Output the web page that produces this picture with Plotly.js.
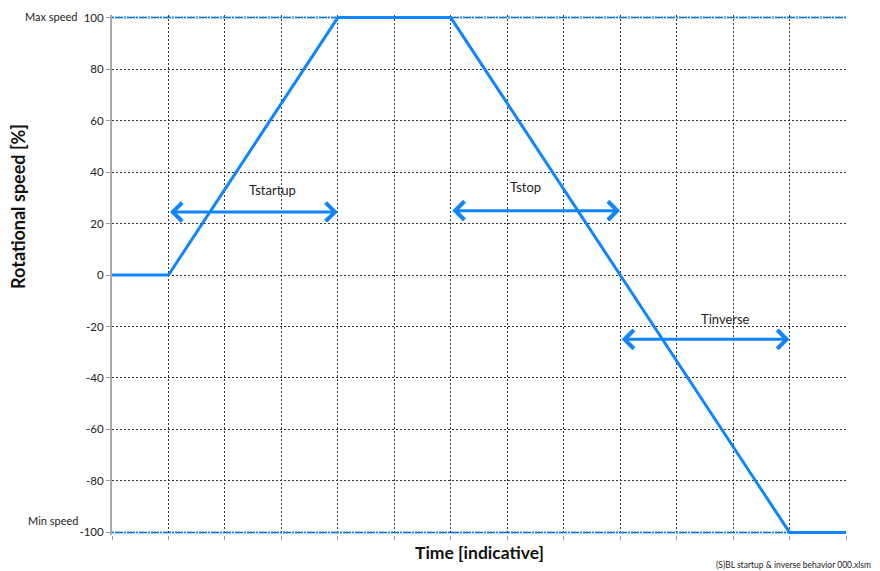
<!DOCTYPE html>
<html>
<head>
<meta charset="utf-8">
<script src="https://cdn.plot.ly/plotly-3.0.1.min.js"></script>
<style>html,body{margin:0;padding:0;background:#fff;}#chart{width:880px;height:571px;}</style>
</head>
<body>
<div id="chart"></div>
<script>
// Speed profile (time in indicative units, speed in %)
const timeValues = [0, 1, 4, 6, 12, 13];
const speedValues = [0, 0, 100, 100, -100, -100];

// Max / min speed reference lines
const limitTime = [0, 13];
const maxSpeed = [100, 100];
const minSpeed = [-100, -100];

// Interval arrows
const arrowNames = ['Tstartup', 'Tstop', 'Tinverse'];
const arrowStart = [1, 6, 9];
const arrowEnd = [4, 9, 12];
const arrowLevel = [24.5, 25, -25];
const labelX = [2.85, 7.33, 10.86];
const labelY = [33, 34, -17];

const yTicks = [-100, -80, -60, -40, -20, 0, 20, 40, 60, 80, 100];

const blue = '#1185fb';
const font = 'Lato, "Open Sans", sans-serif';

const traces = [
  {x: limitTime, y: maxSpeed, mode: 'lines', line: {color: blue, width: 2, dash: '2px,1px'}, hoverinfo: 'skip'},
  {x: limitTime, y: minSpeed, mode: 'lines', line: {color: blue, width: 2, dash: '2px,1px'}, hoverinfo: 'skip'},
  {x: timeValues, y: speedValues, mode: 'lines', line: {color: blue, width: 3}, hoverinfo: 'skip'}
];

const annotations = [];
for (let i = 0; i < arrowNames.length; i++) {
  annotations.push({
    x: arrowEnd[i], y: arrowLevel[i], ax: arrowStart[i], ay: arrowLevel[i],
    xref: 'x', yref: 'y', axref: 'x', ayref: 'y',
    text: '', showarrow: true, arrowhead: 4, startarrowhead: 4, arrowside: 'end+start',
    arrowsize: 1.2, arrowwidth: 3, arrowcolor: blue, standoff: 0, startstandoff: 0
  });
  annotations.push({
    x: labelX[i], y: labelY[i], xref: 'x', yref: 'y', text: arrowNames[i],
    showarrow: false, font: {family: font, size: 13, color: '#222'}
  });
}
annotations.push({x: -0.043, y: 0.998, xref: 'paper', yref: 'paper', xanchor: 'right', yanchor: 'middle',
  text: 'Max speed', showarrow: false, font: {family: font, size: 11, color: '#222'}});
annotations.push({x: -0.043, y: 0.027, xref: 'paper', yref: 'paper', xanchor: 'right', yanchor: 'middle',
  text: 'Min speed', showarrow: false, font: {family: font, size: 11, color: '#222'}});
annotations.push({x: 0.82, y: -0.0577, xref: 'paper', yref: 'paper', xanchor: 'left', yanchor: 'middle',
  text: '(S)BL startup &amp; inverse behavior 000.xlsm', showarrow: false, font: {family: font, size: 8.5, color: '#222'}});
// Axis titles
annotations.push({x: -0.128, y: 0.631, xref: 'paper', yref: 'paper', xanchor: 'center', yanchor: 'middle',
  textangle: -90, text: '<b>Rotational speed [%]</b>', showarrow: false, font: {family: font, size: 18, color: '#111'}});
annotations.push({x: 0.5, y: -0.0346, xref: 'paper', yref: 'paper', xanchor: 'center', yanchor: 'middle',
  text: '<b>Time [indicative]</b>', showarrow: false, font: {family: font, size: 17.5, color: '#111'}});

const layout = {
  width: 880, height: 571,
  margin: {l: 112, r: 34, t: 15, b: 36},
  paper_bgcolor: '#fff', plot_bgcolor: '#fff',
  showlegend: false,
  font: {family: font, color: '#222'},
  xaxis: {
    range: [0, 13], dtick: 1, tick0: 0, showticklabels: false,
    ticks: 'outside', ticklen: 4, tickcolor: '#999',
    showgrid: true, gridcolor: '#333', gridwidth: 1, griddash: '2px,2px',
    zeroline: false, showline: false, automargin: false
  },
  yaxis: {
    range: [-101, 101], tickvals: yTicks, ticktext: yTicks.map(String),
    ticks: 'outside', ticklen: 4, tickcolor: '#999',
    tickfont: {family: font, size: 11.5, color: '#222'},
    showgrid: true, gridcolor: '#333', gridwidth: 1, griddash: '2px,2px',
    zeroline: false, showline: true, linecolor: '#aaa', linewidth: 2, automargin: false
  },
  annotations: annotations
};

Plotly.newPlot('chart', traces, layout, {staticPlot: true, displayModeBar: false});
</script>
</body>
</html>
